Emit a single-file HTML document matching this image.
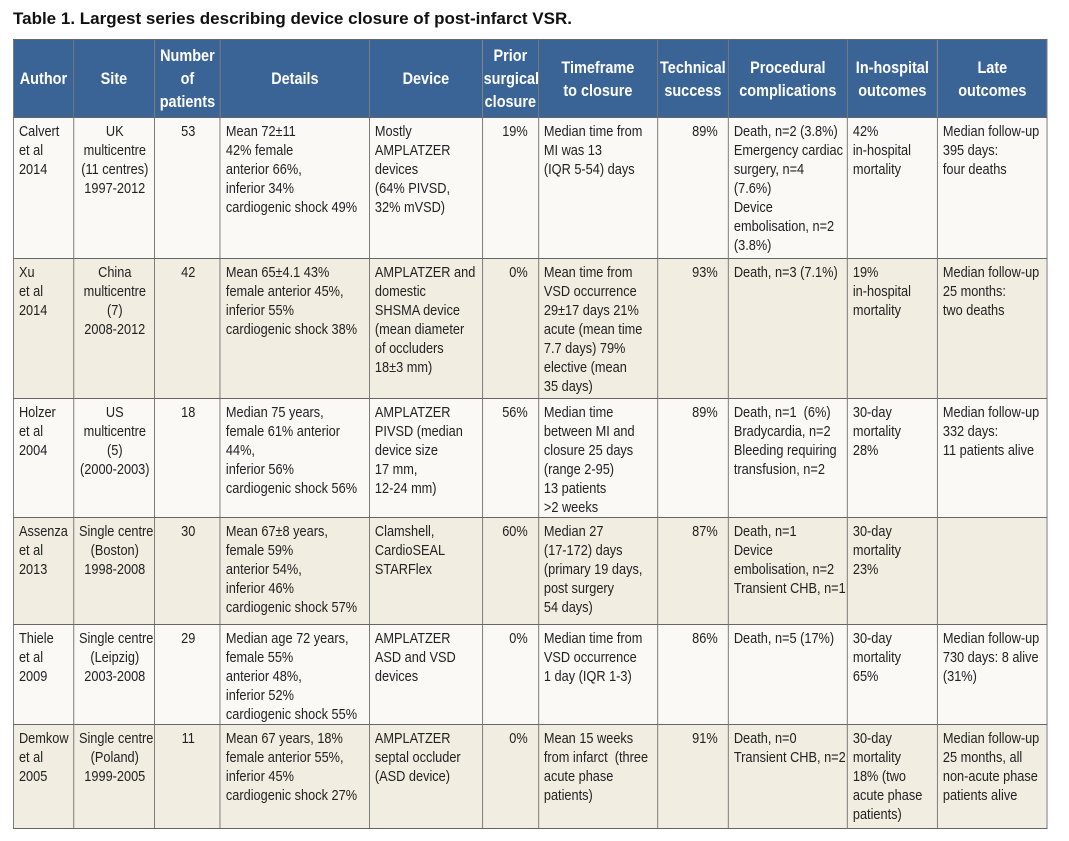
<!DOCTYPE html>
<html><head><meta charset="utf-8"><style>
body{margin:0;background:#fff;width:1069px;height:841px;overflow:hidden;font-family:"Liberation Sans",sans-serif;}
.t{position:absolute;left:13px;top:9px;font-weight:bold;font-size:17px;color:#111;}
table{position:absolute;left:13px;top:39px;border-collapse:collapse;table-layout:fixed;width:1216px;transform:scaleX(0.85);transform-origin:0 0;}
td,th{border:1px solid #666;vertical-align:top;padding:4px 4px 0 6px;font-size:15px;line-height:19px;color:#222;overflow:hidden;white-space:nowrap;}
th{background:#3a6496;color:#fff;font-size:17px;line-height:23px;vertical-align:middle;text-align:center;padding:0 1px;}
tr.a td{background:#faf9f5}tr.b td{background:#f1ede0}
.c{text-align:center}.r{text-align:right;padding-right:12px}
</style></head><body>
<div class="t">Table 1. Largest series describing device closure of post-infarct VSR.</div>
<table>
<colgroup><col style="width:70.6px"><col style="width:95.3px"><col style="width:77.6px"><col style="width:175.3px"><col style="width:132.9px"><col style="width:65.9px"><col style="width:140px"><col style="width:83.5px"><col style="width:140px"><col style="width:105.9px"><col style="width:129.4px"></colgroup>
<tr style="height:78px"><th>Author</th><th>Site</th><th>Number<br>of<br>patients</th><th>Details</th><th>Device</th><th>Prior<br>surgical<br>closure</th><th>Timeframe<br>to closure</th><th>Technical<br>success</th><th>Procedural<br>complications</th><th>In-hospital<br>outcomes</th><th>Late<br>outcomes</th></tr>
<tr class="a" style="height:141px"><td>Calvert<br>et al<br>2014</td><td class="c">UK<br>multicentre<br>(11 centres)<br>1997-2012</td><td class="c">53</td><td>Mean 72±11<br>42% female<br>anterior 66%,<br>inferior 34%<br>cardiogenic shock 49%</td><td>Mostly<br>AMPLATZER<br>devices<br>(64% PIVSD,<br>32% mVSD)</td><td class="r">19%</td><td>Median time from<br>MI was 13<br>(IQR 5-54) days</td><td class="r">89%</td><td>Death, n=2 (3.8%)<br>Emergency cardiac<br>surgery, n=4<br>(7.6%)<br>Device<br>embolisation, n=2<br>(3.8%)</td><td>42%<br>in-hospital<br>mortality</td><td>Median follow-up<br>395 days:<br>four deaths</td></tr>
<tr class="b" style="height:140px"><td>Xu<br>et al<br>2014</td><td class="c">China<br>multicentre<br>(7)<br>2008-2012</td><td class="c">42</td><td>Mean 65±4.1 43%<br>female anterior 45%,<br>inferior 55%<br>cardiogenic shock 38%</td><td>AMPLATZER and<br>domestic<br>SHSMA device<br>(mean diameter<br>of occluders<br>18±3 mm)</td><td class="r">0%</td><td>Mean time from<br>VSD occurrence<br>29±17 days 21%<br>acute (mean time<br>7.7 days) 79%<br>elective (mean<br>35 days)</td><td class="r">93%</td><td>Death, n=3 (7.1%)</td><td>19%<br>in-hospital<br>mortality</td><td>Median follow-up<br>25 months:<br>two deaths</td></tr>
<tr class="a" style="height:119px"><td>Holzer<br>et al<br>2004</td><td class="c">US<br>multicentre<br>(5)<br>(2000-2003)</td><td class="c">18</td><td>Median 75 years,<br>female 61% anterior<br>44%,<br>inferior 56%<br>cardiogenic shock 56%</td><td>AMPLATZER<br>PIVSD (median<br>device size<br>17 mm,<br>12-24 mm)</td><td class="r">56%</td><td>Median time<br>between MI and<br>closure 25 days<br>(range 2-95)<br>13 patients<br>&gt;2 weeks</td><td class="r">89%</td><td>Death, n=1 &nbsp;(6%)<br>Bradycardia, n=2<br>Bleeding requiring<br>transfusion, n=2</td><td>30-day<br>mortality<br>28%</td><td>Median follow-up<br>332 days:<br>11 patients alive</td></tr>
<tr class="b" style="height:107px"><td>Assenza<br>et al<br>2013</td><td class="c">Single centre<br>(Boston)<br>1998-2008</td><td class="c">30</td><td>Mean 67±8 years,<br>female 59%<br>anterior 54%,<br>inferior 46%<br>cardiogenic shock 57%</td><td>Clamshell,<br>CardioSEAL<br>STARFlex</td><td class="r">60%</td><td>Median 27<br>(17-172) days<br>(primary 19 days,<br>post surgery<br>54 days)</td><td class="r">87%</td><td>Death, n=1<br>Device<br>embolisation, n=2<br>Transient CHB, n=1</td><td>30-day<br>mortality<br>23%</td><td></td></tr>
<tr class="a" style="height:99px"><td>Thiele<br>et al<br>2009</td><td class="c">Single centre<br>(Leipzig)<br>2003-2008</td><td class="c">29</td><td>Median age 72 years,<br>female 55%<br>anterior 48%,<br>inferior 52%<br>cardiogenic shock 55%</td><td>AMPLATZER<br>ASD and VSD<br>devices</td><td class="r">0%</td><td>Median time from<br>VSD occurrence<br>1 day (IQR 1-3)</td><td class="r">86%</td><td>Death, n=5 (17%)</td><td>30-day<br>mortality<br>65%</td><td>Median follow-up<br>730 days: 8 alive<br>(31%)</td></tr>
<tr class="b" style="height:104px"><td>Demkow<br>et al<br>2005</td><td class="c">Single centre<br>(Poland)<br>1999-2005</td><td class="c">11</td><td>Mean 67 years, 18%<br>female anterior 55%,<br>inferior 45%<br>cardiogenic shock 27%</td><td>AMPLATZER<br>septal occluder<br>(ASD device)</td><td class="r">0%</td><td>Mean 15 weeks<br>from infarct &nbsp;(three<br>acute phase<br>patients)</td><td class="r">91%</td><td>Death, n=0<br>Transient CHB, n=2</td><td>30-day<br>mortality<br>18% (two<br>acute phase<br>patients)</td><td>Median follow-up<br>25 months, all<br>non-acute phase<br>patients alive</td></tr>
</table>
</body></html>
